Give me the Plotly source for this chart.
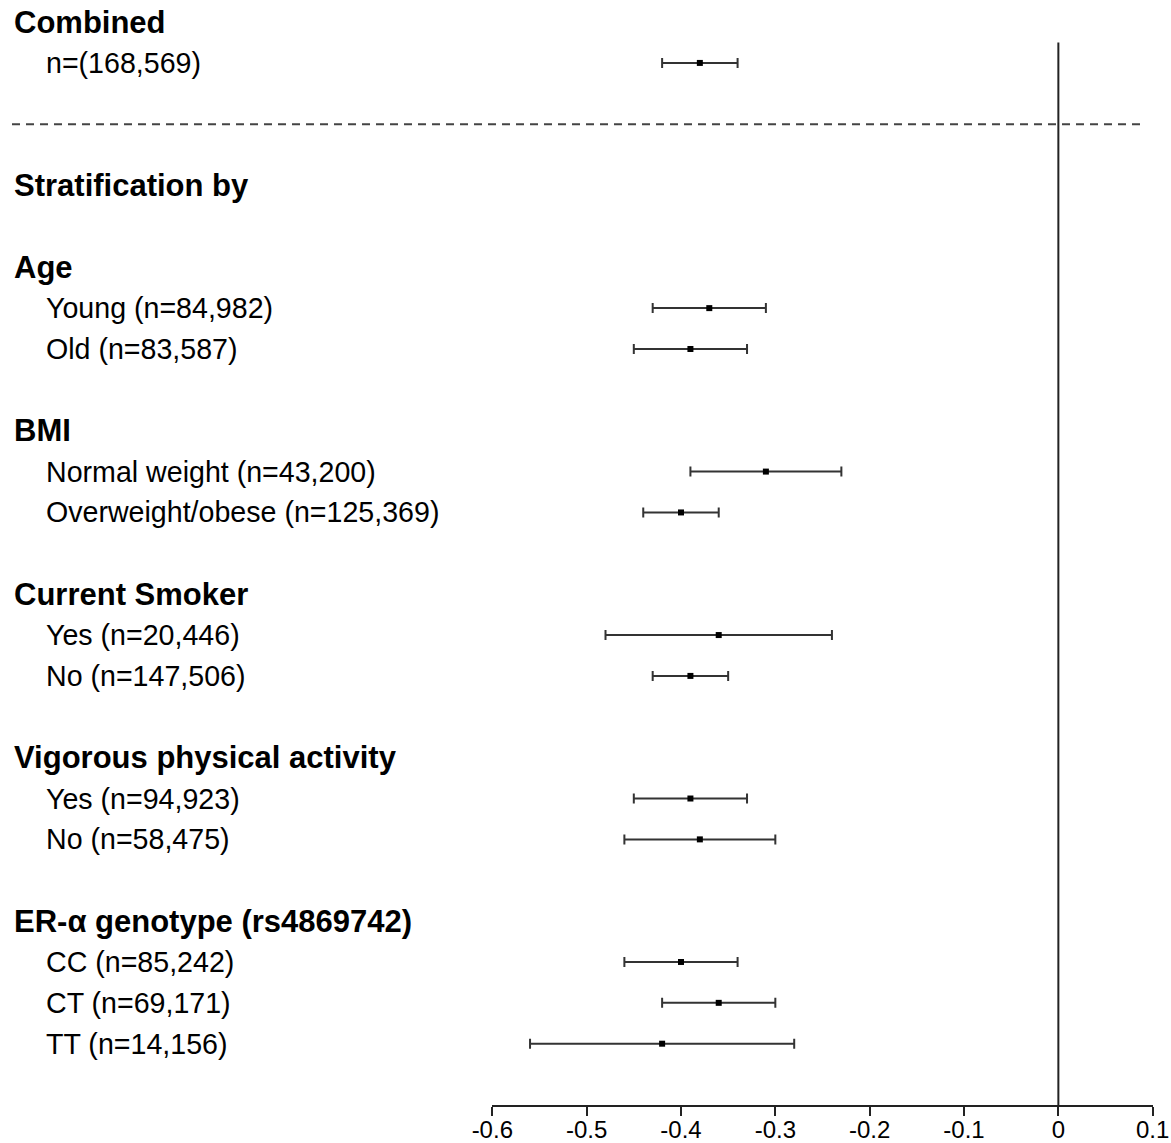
import plotly.graph_objects as go

# Row labels in display order ("" = blank spacer row)
row_labels = [
    "Combined", "n=(168,569)", "", "",
    "Stratification by", "",
    "Age", "Young (n=84,982)", "Old (n=83,587)", "",
    "BMI", "Normal weight (n=43,200)", "Overweight/obese (n=125,369)", "",
    "Current Smoker", "Yes (n=20,446)", "No (n=147,506)", "",
    "Vigorous physical activity", "Yes (n=94,923)", "No (n=58,475)", "",
    "ER-α genotype (rs4869742)", "CC (n=85,242)", "CT (n=69,171)", "TT (n=14,156)",
]
header_labels = ["Combined", "Stratification by", "Age", "BMI", "Current Smoker",
                 "Vigorous physical activity", "ER-α genotype (rs4869742)"]

# Estimates and 95% CI for the data rows
est_labels = ["n=(168,569)", "Young (n=84,982)", "Old (n=83,587)",
              "Normal weight (n=43,200)", "Overweight/obese (n=125,369)",
              "Yes (n=20,446)", "No (n=147,506)",
              "Yes (n=94,923)", "No (n=58,475)",
              "CC (n=85,242)", "CT (n=69,171)", "TT (n=14,156)"]
est_row = [1, 7, 8, 11, 12, 15, 16, 19, 20, 23, 24, 25]
estimate = [-0.38, -0.37, -0.39, -0.31, -0.40, -0.36, -0.39, -0.39, -0.38, -0.40, -0.36, -0.42]
lower = [-0.42, -0.43, -0.45, -0.39, -0.44, -0.48, -0.43, -0.45, -0.46, -0.46, -0.42, -0.56]
upper = [-0.34, -0.31, -0.33, -0.23, -0.36, -0.24, -0.35, -0.33, -0.30, -0.34, -0.30, -0.28]

tick_vals = [-0.6, -0.5, -0.4, -0.3, -0.2, -0.1, 0, 0.1]
tick_text = ["-0.6", "-0.5", "-0.4", "-0.3", "-0.2", "-0.1", "0", "0.1"]

W, H = 1171, 1143
FONT = "Liberation Sans, Arial, sans-serif"

fig = go.Figure()
fig.add_trace(go.Scatter(
    x=estimate, y=est_row, mode="markers",
    marker=dict(symbol="square", size=6, color="black"),
    error_x=dict(type="data", symmetric=False,
                 array=[u - e for u, e in zip(upper, estimate)],
                 arrayminus=[e - l for e, l in zip(estimate, lower)],
                 color="#333333", thickness=2, width=5),
    showlegend=False, hoverinfo="x",
))

annotations = []
for i, lab in enumerate(row_labels):
    if not lab:
        continue
    if lab in header_labels:
        annotations.append(dict(x=12 / W, xref="paper", y=i, yref="y", text="<b>" + lab + "</b>",
                                showarrow=False, xanchor="left", yanchor="middle",
                                font=dict(family=FONT, size=31, color="black")))
    else:
        annotations.append(dict(x=44 / W, xref="paper", y=i, yref="y", text=lab,
                                showarrow=False, xanchor="left", yanchor="middle",
                                font=dict(family=FONT, size=28.6, color="black")))

shapes = [
    dict(type="line", xref="x", yref="y", x0=0, x1=0, y0=0.5, y1=len(row_labels) + 0.5,
         line=dict(color="#222222", width=2)),
    dict(type="line", xref="paper", yref="y", x0=12 / W, x1=1146 / W, y0=2.5, y1=2.5,
         line=dict(color="#444444", width=2, dash="8px,6px")),
]

fig.update_layout(
    width=W, height=H,
    margin=dict(l=0, r=0, t=0, b=38, pad=0, autoexpand=False),
    plot_bgcolor="white", paper_bgcolor="white",
    xaxis=dict(domain=[492.3 / W, 1152.7 / W], range=[-0.6, 0.1],
               tickvals=tick_vals, ticktext=tick_text, automargin=False,
               showgrid=False, zeroline=False, showline=True, linecolor="#222222", linewidth=2,
               ticks="outside", ticklen=9, tickwidth=2, tickcolor="#222222",
               ticklabelstandoff=-7,
               tickfont=dict(family=FONT, size=24, color="black")),
    yaxis=dict(range=[len(row_labels) + 0.5, -0.54], visible=False, automargin=False,
               showgrid=False, zeroline=False),
    annotations=annotations, shapes=shapes,
)

fig.write_html(
    "out.html",
    config={"displayModeBar": False},
    post_script="document.body.style.margin='0';document.body.style.overflow='hidden';"
                "document.documentElement.style.overflow='hidden';",
)
